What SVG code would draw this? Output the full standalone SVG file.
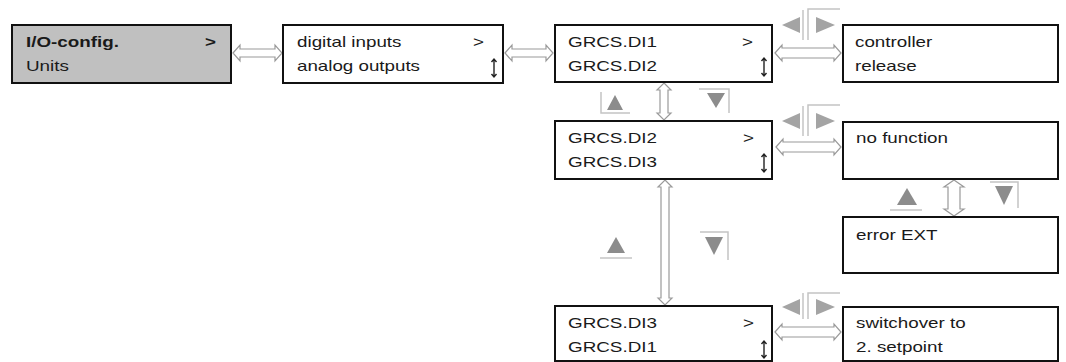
<svg xmlns="http://www.w3.org/2000/svg" width="1066" height="362" viewBox="0 0 1066 362">
<style>
.box{fill:#fff;stroke:#111;stroke-width:2}
.sel{fill:#c0c0c0}
.t{font-family:"Liberation Sans",Arial,sans-serif;font-size:15px;fill:#1a1a1a}
.b{font-weight:bold}
.arr{fill:#fff;stroke:#9a9a9a;stroke-width:1.2}
.tri{fill:#8c8c8c}
.lr{fill:#a4a4a4}
.frm{fill:none;stroke:#c4c4c4;stroke-width:1.5}
.ib{fill:none;stroke:#222;stroke-width:1.4}
</style>
<rect width="1066" height="362" fill="#fff"/>
<g id="connectors">
<path class="arr" d="M233,53 L240,45 L240,49 L275,49 L275,45 L282,53 L275,61 L275,57 L240,57 L240,61 Z"/>
<path class="arr" d="M505,53 L512,45 L512,49 L546,49 L546,45 L553,53 L546,61 L546,57 L512,57 L512,61 Z"/>
<path class="arr" d="M775,53 L782,45 L782,48 L834,48 L834,45 L841,53 L834,61 L834,58 L782,58 L782,61 Z"/>
<path class="arr" d="M776,147 L783,139 L783,142 L834,142 L834,139 L841,147 L834,155 L834,152 L783,152 L783,155 Z"/>
<path class="arr" d="M775,332 L782,324 L782,327 L834,327 L834,324 L841,332 L834,340 L834,337 L782,337 L782,340 Z"/>
<path class="arr" d="M664,83 L671,90 L668,90 L668,113 L671,113 L664,120 L657,113 L660,113 L660,90 L657,90 Z"/>
<path class="arr" d="M665,180 L672,187 L669,187 L669,298 L672,298 L665,305 L658,298 L661,298 L661,187 L658,187 Z"/>
<path class="arr" d="M954,180 L964,187 L960,187 L960,209 L964,209 L954,216 L944,209 L948,209 L948,187 L944,187 Z"/>
</g>
<g id="keys">
<polyline class="frm" points="601,92 601,113 630,113"/>
<polygon class="tri" points="607,110 615,95 623,110"/>
<polyline class="frm" points="699,89 729,89 729,113"/>
<polygon class="tri" points="707,93 725,93 716,108"/>
<polyline class="frm" points="600,258 632,258"/>
<polygon class="tri" points="607,253 616,237 625,253"/>
<polyline class="frm" points="700,232 728,232 728,260"/>
<polygon class="tri" points="705,237 723,237 714,255"/>
<polyline class="frm" points="890,210 922,210"/>
<polygon class="tri" points="897,205 907,188 917,205"/>
<polyline class="frm" points="990,182 1018,182 1018,208"/>
<polygon class="tri" points="995,186 1013,186 1004,205"/>
<g transform="translate(0,25)">
<polygon class="lr" points="782,0 800,-8 800,8"/>
<polygon class="lr" points="835,0 816,-8 816,8"/>
<polyline class="frm" points="803,-15 803,15"/>
<polyline class="frm" points="808,15 808,-16 840,-16"/>
</g>
<g transform="translate(0,121)">
<polygon class="lr" points="782,0 800,-8 800,8"/>
<polygon class="lr" points="835,0 816,-8 816,8"/>
<polyline class="frm" points="803,-15 803,15"/>
<polyline class="frm" points="808,15 808,-16 840,-16"/>
</g>
<g transform="translate(0,307)">
<polygon class="lr" points="782,0 800,-8 800,8"/>
<polygon class="lr" points="835,0 816,-8 816,8"/>
<polyline class="frm" points="803,-14 803,12"/>
<polyline class="frm" points="808,12 808,-14 840,-14"/>
</g>
</g>
<g id="n1">
<rect class="box sel" x="12" y="25" width="219" height="58"/>
<text class="t b" x="26" y="47" textLength="93" lengthAdjust="spacingAndGlyphs">I/O-config.</text>
<text class="t b" x="205" y="47" textLength="11" lengthAdjust="spacingAndGlyphs">&gt;</text>
<text class="t" x="26" y="71" textLength="43" lengthAdjust="spacingAndGlyphs">Units</text>
</g>
<g id="n2">
<rect class="box" x="283" y="25" width="220" height="58"/>
<text class="t" x="297" y="47" textLength="104.5" lengthAdjust="spacingAndGlyphs">digital inputs</text>
<text class="t" x="473" y="47" textLength="11" lengthAdjust="spacingAndGlyphs">&gt;</text>
<text class="t" x="297" y="71" textLength="123" lengthAdjust="spacingAndGlyphs">analog outputs</text>
<path class="ib" d="M494,59 V77 M491.5,62 L494,59 L496.5,62 M491.5,74 L494,77 L496.5,74"/>
</g>
<g id="n3">
<rect class="box" x="555" y="25" width="217" height="57"/>
<text class="t" x="568" y="47" textLength="89" lengthAdjust="spacingAndGlyphs">GRCS.DI1</text>
<text class="t" x="742" y="47" textLength="11" lengthAdjust="spacingAndGlyphs">&gt;</text>
<text class="t" x="568" y="71" textLength="89" lengthAdjust="spacingAndGlyphs">GRCS.DI2</text>
<path class="ib" d="M764,58 V76 M761.5,61 L764,58 L766.5,61 M761.5,73 L764,76 L766.5,73"/>
</g>
<g id="n4">
<rect class="box" x="843" y="25" width="215" height="57"/>
<text class="t" x="855" y="47" textLength="77.3" lengthAdjust="spacingAndGlyphs">controller</text>
<text class="t" x="855" y="71" textLength="61.6" lengthAdjust="spacingAndGlyphs">release</text>
</g>
<g id="n5">
<rect class="box" x="555" y="121" width="217" height="58"/>
<text class="t" x="568" y="143" textLength="89" lengthAdjust="spacingAndGlyphs">GRCS.DI2</text>
<text class="t" x="743" y="143" textLength="11" lengthAdjust="spacingAndGlyphs">&gt;</text>
<text class="t" x="568" y="167" textLength="89" lengthAdjust="spacingAndGlyphs">GRCS.DI3</text>
<path class="ib" d="M764,154 V172 M761.5,157 L764,154 L766.5,157 M761.5,169 L764,172 L766.5,169"/>
</g>
<g id="n6">
<rect class="box" x="843" y="122" width="215" height="57"/>
<text class="t" x="856" y="143" textLength="92" lengthAdjust="spacingAndGlyphs">no function</text>
</g>
<g id="n7">
<rect class="box" x="843" y="217" width="215" height="56"/>
<text class="t" x="856" y="240" textLength="81.5" lengthAdjust="spacingAndGlyphs">error EXT</text>
</g>
<g id="n8">
<rect class="box" x="555" y="306" width="217" height="55"/>
<text class="t" x="568" y="328" textLength="89" lengthAdjust="spacingAndGlyphs">GRCS.DI3</text>
<text class="t" x="743" y="328" textLength="11" lengthAdjust="spacingAndGlyphs">&gt;</text>
<text class="t" x="568" y="352" textLength="89" lengthAdjust="spacingAndGlyphs">GRCS.DI1</text>
<path class="ib" d="M764,341 V358 M761.5,344 L764,341 L766.5,344 M761.5,355 L764,358 L766.5,355"/>
</g>
<g id="n9">
<rect class="box" x="843" y="307" width="215" height="54"/>
<text class="t" x="856" y="328" textLength="109.7" lengthAdjust="spacingAndGlyphs">switchover to</text>
<text class="t" x="856" y="352" textLength="86.7" lengthAdjust="spacingAndGlyphs">2. setpoint</text>
</g>
</svg>
